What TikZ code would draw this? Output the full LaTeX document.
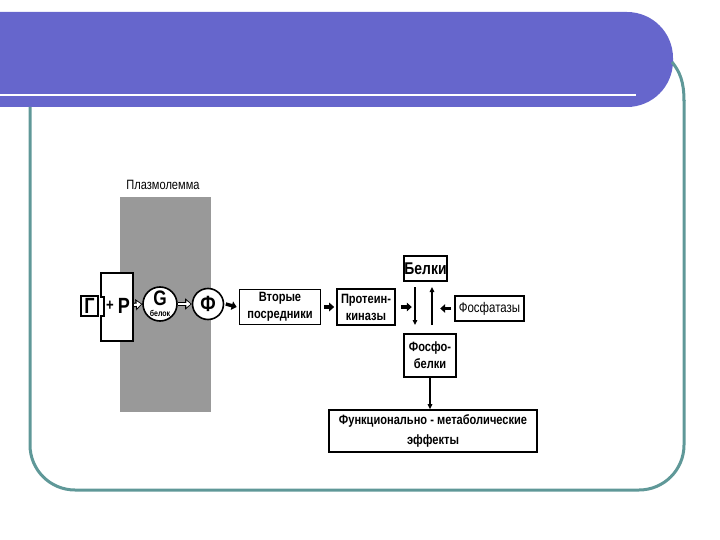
\documentclass[tikz,border=0pt]{standalone}
\usepackage{fontspec}
\setmainfont{Liberation Sans}[FakeStretch=0.82]
\usetikzlibrary{arrows.meta,calc}
\definecolor{banner}{RGB}{102,102,204}
\definecolor{framecol}{RGB}{95,152,152}
\definecolor{membr}{RGB}{153,153,153}
\begin{document}
\begin{tikzpicture}[x=1pt,y=-1pt,
  box/.style={draw, line width=1.6pt, fill=white, align=center, inner sep=0pt,
    font=\bfseries\fontsize{13.5}{17}\selectfont},
  blackarr/.style={line width=3.4pt, -{Triangle[length=5pt,width=8.5pt]}},
  hollowout/.style={line width=4.6pt, -{Triangle[length=6.5pt,width=11pt]}},
  hollowin/.style={white, line width=2.2pt, -{Triangle[length=4pt,width=6.5pt]}, shorten >=1.3pt, shorten <=0.6pt},
  thinarr/.style={line width=1.3pt, -{Triangle[length=5pt,width=4.5pt]}},
  bigsym/.style={font=\bfseries\fontsize{22}{22}\selectfont, inner sep=0pt}
]
\useasboundingbox (0,0) rectangle (720,540);
% banner
\fill[banner, rounded corners=46] (-60,12) rectangle (673,107);
\draw[white, line width=2.6pt] (-2,95) -- (636,95);
% frame
\draw[framecol, line width=3pt, rounded corners=45]
  (30,107) -- (30,490) -- (684,490) -- (684,100);
\draw[framecol, line width=3pt] (684,101) .. controls (684,82) and (680,72) .. (672,62);
% membrane
\fill[membr] (120,197) rectangle (211,412);
\node[font=\fontsize{13.5}{14}\selectfont] (pm) at (163,185) {Плазмолемма};
% receptor
\draw[line width=1.3pt, fill=white] (101,273) -- (133,273) -- (133,341) -- (101,341) -- (101,316) -- (104,316) -- (104,297) -- (101,297) -- cycle;
\node[draw, line width=1.6pt, fill=white, minimum width=17pt, minimum height=20pt, bigsym] (gam) at (89.5,306) {Г};
\node[font=\bfseries\fontsize{16}{16}\selectfont, inner sep=0pt] (plus) at (110,306) {+};
\node[bigsym] (p) at (124,306) {Р};
\node[circle, draw, line width=1.6pt, fill=white, minimum size=34pt, inner sep=0pt] (g) at (160,304) {};
\node[font=\bfseries\fontsize{21}{21}\selectfont, inner sep=0pt] (gl) at (160,298) {G};
\node[font=\bfseries\fontsize{8.5}{8.5}\selectfont, inner sep=0pt] (gb) at (160,313.5) {белок};
\node[circle, draw, line width=1.6pt, fill=white, minimum size=31pt, inner sep=0pt,
  font=\bfseries\fontsize{22}{22}\selectfont] (f) at (208,304) {Ф};
% hollow arrows
\draw[hollowout] (133.5,305) -- (g.west);
\draw[hollowin] (133.5,305) -- (g.west);
\draw[hollowout] (g.east) -- (f.west);
\draw[hollowin] (g.east) -- (f.west);
% boxes
\node[box, minimum width=81pt, minimum height=35pt] (vp) at (280,307) {Вторые\\посредники};
\node[box, minimum width=58pt, minimum height=36pt] (pk) at (366,307) {Протеин-\\киназы};
\node[box, minimum width=43pt, minimum height=25pt, font=\bfseries\fontsize{17}{17}\selectfont] (bel) at (425.5,268.5) {Белки};
\node[box, minimum width=69pt, minimum height=25pt, font=\fontsize{14}{14}\selectfont] (fos) at (489.5,308.5) {Фосфатазы};
\node[box, minimum width=52pt, minimum height=43pt] (fb) at (430,355.5) {Фосфо-\\белки};
\node[box, minimum width=208pt, minimum height=42pt, font=\bfseries\fontsize{13.5}{20}\selectfont] (fun) at (433,431) {Функционально - метаболические\\эффекты};
% black arrows
\draw[blackarr] ($(f.east)+(1.5,0)$) -- ($(vp.west)+(-2,0)$);
\draw[blackarr] ($(vp.east)+(3,0)$) -- ($(pk.west)+(-2,0)$);
\draw[blackarr] ($(pk.east)+(5,0)$) -- ($(pk.east)+(16,0)$);
\draw[blackarr] ($(fos.west)+(-3,0)$) -- ($(fos.west)+(-14,0)$);
% vertical arrows
\coordinate (d1) at (415,287);
\coordinate (d2) at (415,325);
\coordinate (u1) at (432,325);
\coordinate (u2) at (432,287);
\draw[thinarr] (d1) -- (d2);
\draw[thinarr] (u1) -- (u2);
\draw[thinarr] (fb.south) -- (fb.south |- fun.north);
\end{tikzpicture}
\end{document}
